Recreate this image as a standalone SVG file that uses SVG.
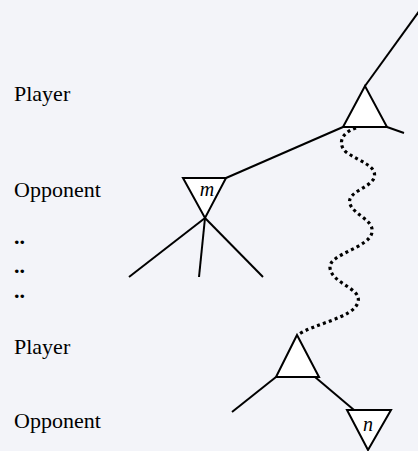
<svg xmlns="http://www.w3.org/2000/svg" width="418" height="451" viewBox="0 0 418 451">
<style>
.bg{fill:#f3f4f9}
.lbl{font-family:"Liberation Serif","Times New Roman",serif;font-size:22px;fill:#000}
.dot{font-family:"Liberation Serif","Times New Roman",serif;font-size:22px;font-weight:bold;fill:#000}
.var{font-family:"Liberation Serif","Times New Roman",serif;font-size:20px;font-style:italic;fill:#000}
.tri{fill:#fff;stroke:#000;stroke-width:2;stroke-linejoin:miter}
.edge{fill:none;stroke:#000;stroke-width:2}
.dots{fill:none;stroke:#000;stroke-width:3.2;stroke-dasharray:3 3.2}
</style>
<rect class="bg" x="0" y="0" width="418" height="451"/>
<g id="labels">
<text class="lbl" x="14" y="101">Player</text>
<text class="lbl" x="14" y="197">Opponent</text>
<text class="dot" x="14" y="244">..</text>
<text class="dot" x="14" y="273">..</text>
<text class="dot" x="14" y="298">..</text>
<text class="lbl" x="14" y="354">Player</text>
<text class="lbl" x="14" y="428">Opponent</text>
</g>
<g id="connectors">
<line class="edge" x1="365" y1="86" x2="428" y2="-1"/>
<line class="edge" x1="343" y1="127" x2="226" y2="178"/>
<line class="edge" x1="387" y1="127" x2="404" y2="133"/>
<line class="edge" x1="205" y1="218" x2="129" y2="277"/>
<line class="edge" x1="205" y1="218" x2="199" y2="277"/>
<line class="edge" x1="205" y1="218" x2="263" y2="277"/>
<line class="edge" x1="276" y1="377" x2="232" y2="412"/>
<line class="edge" x1="315" y1="377" x2="354" y2="410"/>
<path class="dots" d="M356,128 C340,133 338,145 346,152 C360,162 378,166 374,178 C370,188 346,192 350,204 C354,215 374,220 372,232 C370,248 328,254 330,268 C332,284 362,288 358,302 C354,318 312,324 298,335"/>
</g>
<g id="player-top">
<polygon class="tri" points="365,86 343,127 387,127"/>
</g>
<g id="opponent-m">
<polygon class="tri" points="183,178 226,178 205,218"/>
<text class="var" x="207" y="196" text-anchor="middle">m</text>
</g>
<g id="player-bottom">
<polygon class="tri" points="297,335 276,377 319,377"/>
</g>
<g id="opponent-n">
<polygon class="tri" points="347,410 391,410 368,450"/>
<text class="var" x="368" y="431" text-anchor="middle">n</text>
</g>
</svg>
